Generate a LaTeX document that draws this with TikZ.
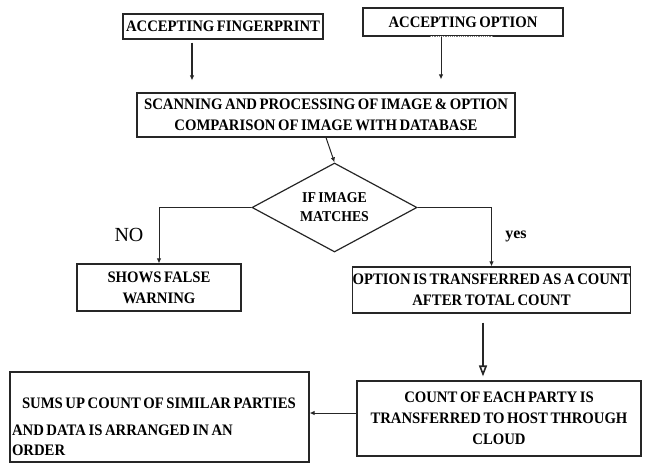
\documentclass[tikz,border=0pt]{standalone}
\usepackage{fontspec}
\setmainfont{Liberation Serif}
\newfontfamily\boxfont[FakeStretch=0.92,WordSpace=0.7]{Liberation Serif}
\usetikzlibrary{arrows.meta,shapes.geometric}
\begin{document}
\begin{tikzpicture}[x=1pt,y=-1pt,
    box/.style={draw=black!85, line width=1.2pt, inner sep=0pt, align=center,
      font=\boxfont\bfseries\fontsize{16}{21}\selectfont},
    arr/.style={-{Latex[length=5pt,width=4.5pt]}, line width=1pt, black!85},
    bigarr/.style={-{Triangle[open,length=11pt,width=8pt]}, line width=1.6pt, black!85}]
    \useasboundingbox (0,0) rectangle (649,463);
    % Input boxes
    \node[box, minimum width=200pt, minimum height=25pt] (fp) at (223,26.5) {ACCEPTING FINGERPRINT};
    \node[box, minimum width=200pt, minimum height=28pt] (opt) at (463,22) {ACCEPTING OPTION};
    \draw[white, line width=1.6pt] ([xshift=-33pt]opt.south) -- ([xshift=30pt]opt.south);
    \draw[gray, densely dotted, line width=1.2pt] ([xshift=-33pt]opt.south) -- ([xshift=30pt]opt.south);
    
    % Scanning and matching
    \node[box, minimum width=378pt, minimum height=44pt] (scan) at (326,115)
        {SCANNING AND PROCESSING OF IMAGE \& OPTION\\ COMPARISON OF IMAGE WITH DATABASE};
    \node[box, diamond, aspect=1.9, minimum width=165pt, minimum height=89pt,
        font=\boxfont\bfseries\fontsize{15}{19}\selectfont] (match) at (334.5,207.5) {IF IMAGE\\ MATCHES};
    
    % Results
    \node[box, minimum width=164pt, minimum height=47pt] (warn) at (159,287.5) {SHOWS FALSE\\ WARNING};
    \node[box, minimum width=277pt, minimum height=46pt] (trans) at (491.5,290)
        {OPTION IS TRANSFERRED AS A COUNT\\ AFTER TOTAL COUNT};
    \node[box, minimum width=284pt, minimum height=75pt] (host) at (499,418.5)
        {COUNT OF EACH PARTY IS\\ TRANSFERRED TO HOST THROUGH\\ CLOUD};
    \node[box, minimum width=299pt, minimum height=90pt] (sums) at (159.5,417) {};
    \node[box, draw=none, align=left, anchor=west] (sumstext) at ([xshift=2pt,yshift=-9.5pt]sums.west)
        {\hspace*{10pt}SUMS UP COUNT OF SIMILAR PARTIES\\[6pt] AND DATA IS ARRANGED IN AN\\[-1pt] ORDER};
    
    % Branch labels
    \node[font=\fontsize{20}{20}\selectfont] (no) at (129,235) {NO};
    \node[font=\bfseries\fontsize{16}{16}\selectfont] (yes) at (516,236) {yes};
    
    % Connectors
    \draw[arr, line width=1.8pt, shorten <=3pt, shorten >=12pt] ([xshift=-31pt]fp.south) -- ([xshift=-31pt]fp.south |- scan.north);
    \draw[arr, shorten >=13pt] ([xshift=-22pt]opt.south) -- ([xshift=-22pt]opt.south |- scan.north);
    \draw[arr] (scan.south) -- (match.north);
    \draw[arr] (match.west) -| (warn.north);
    \draw[arr] (match.east) -| (trans.north);
    \draw[bigarr, shorten <=9pt, shorten >=4pt] ([xshift=-8.5pt]trans.south) -- ([xshift=-16pt]host.north);
    \draw[arr] ([yshift=5.5pt]host.west) -- ([yshift=5.5pt]host.west -| sums.east);
\end{tikzpicture}
\end{document}
